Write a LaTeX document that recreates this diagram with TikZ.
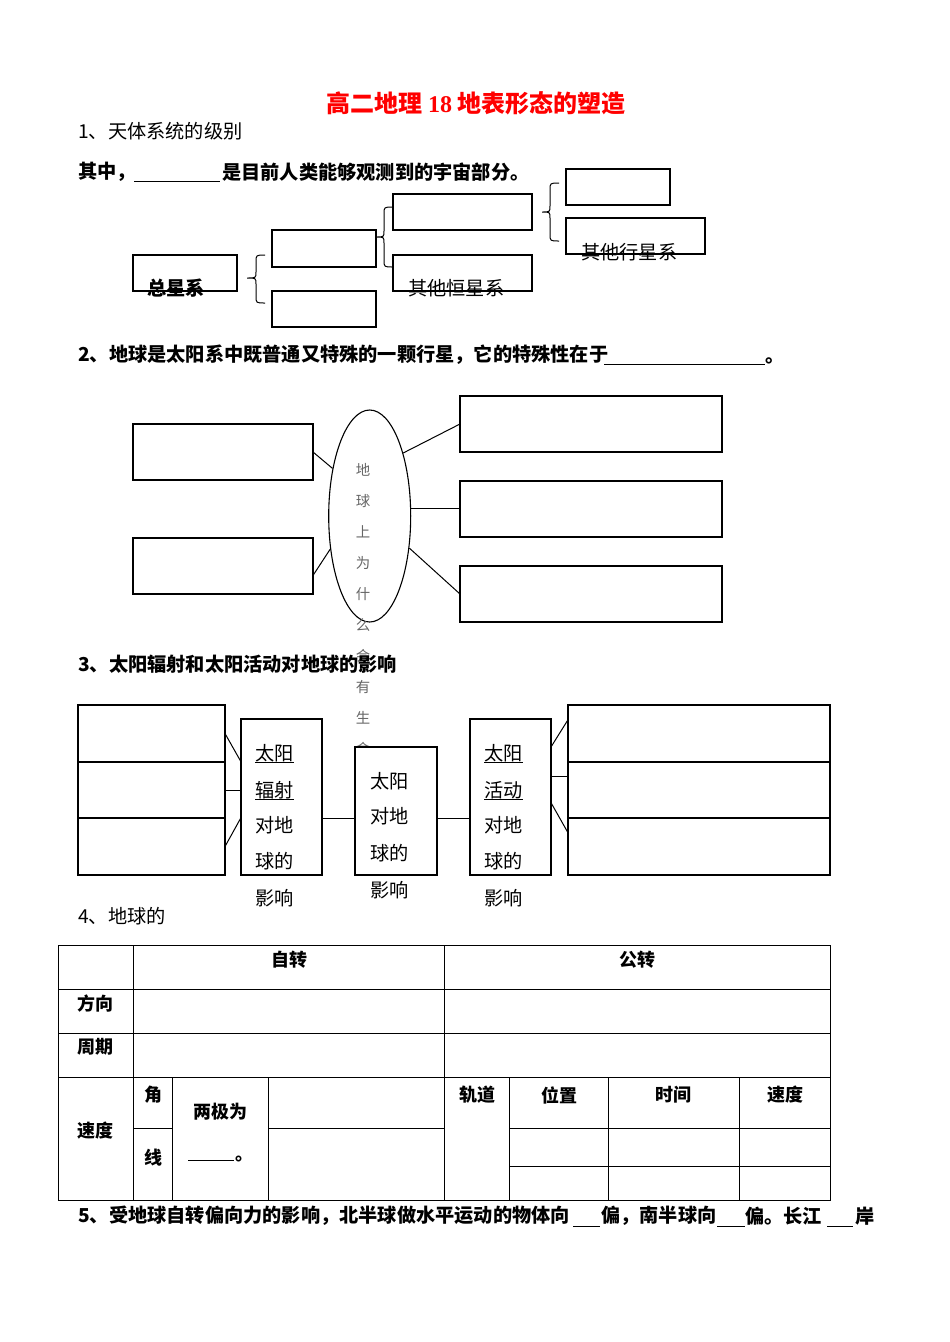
\documentclass[tikz,border=0pt]{standalone}
\usepackage{fontspec}
\setmainfont{Noto Sans CJK SC}
\newfontfamily\serifdigits{Liberation Serif}
\usetikzlibrary{shapes.geometric,calc}
\tikzset{
  bx/.style={draw, line width=1.1pt, inner sep=0pt, outer sep=0pt},
  tb/.style={font=\fontsize{19.2}{19.2}\selectfont\bfseries, anchor=west, inner sep=0pt},
  tr/.style={font=\fontsize{19.2}{19.2}\selectfont, anchor=west, inner sep=0pt},
  tbox/.style={font=\fontsize{19.2}{19.2}\selectfont, anchor=base west, inner sep=0pt},
  te/.style={font=\fontsize{14.4}{14.4}\selectfont, text=black!60, inner sep=0pt},
  tt/.style={font=\fontsize{18}{18}\selectfont\bfseries, inner sep=0pt},
  grid/.style={line width=0.9pt},
  link/.style={line width=1pt},
  ul/.style={line width=0.9pt},
  brace/.style={line width=1pt}
}
\newcommand\mybox[6][]{\node[bx,#1,minimum width={#5-#3},minimum height={#6-#4}] (#2) at ({(#3+#5)/2},{(#4+#6)/2}) {};}
% tip x, mid x, end x, top y, tip y, bottom y
\newcommand\mybrace[6]{\draw[brace] (#3,#4) .. controls (#2,#4) .. (#2,{#4+7}) -- (#2,{#5-6}) .. controls (#2,#5) .. (#1,#5) .. controls (#2,#5) .. (#2,{#5+6}) -- (#2,{#6-7}) .. controls (#2,#6) .. (#3,#6);}
\begin{document}
\begin{tikzpicture}[x=1pt,y=-1pt]
\useasboundingbox[fill=white] (0,0) rectangle (950,1342);

% title
\node[font=\fontsize{24}{24}\selectfont\bfseries, text=red, inner sep=0pt] (title) at (476,103) {高二地理 {\serifdigits 18} 地表形态的塑造};

% ---------- section 1
\node[tr] (s1) at (78,131) {1、天体系统的级别};
\node[tb] (q1a) at (78,172) {其中，};
\draw[ul] (134,181.5) -- (220,181.5);
\node[tb] (q1b) at (222,172) {是目前人类能够观测到的宇宙部分。};

\mybox{zx}{133}{255}{237}{291}
\mybox{b1}{272}{230}{376}{267}
\mybox{b2}{272}{291}{376}{327}
\mybox{c1}{393}{194}{532}{230}
\mybox{c2}{393}{255}{532}{291}
\mybox{d1}{566}{169}{670}{205}
\mybox{d2}{566}{218}{705}{254}
\node[tb] (zxt) at (147,288) {总星系};
\node[tr] (c2t) at (408,288) {其他恒星系};
\node[tr] (d2t) at (581,252) {其他行星系};

\mybrace{247}{256}{265}{255}{278}{303}
\mybrace{376}{384}{393}{207}{237}{267}
\mybrace{542}{550}{559}{183}{212}{241}

% ---------- section 2
\node[tb] (s2) at (78,355) {2、地球是太阳系中既普通又特殊的一颗行星，它的特殊性在于};
\draw[ul] (604,364) -- (765,364);
\node[tb, anchor=base west] (s2e) at (765,362.3) {。};

\mybox{L1}{133}{424}{313}{480}
\mybox{L2}{133}{538}{313}{594}
\mybox{R1}{460}{396}{722}{452}
\mybox{R2}{460}{481}{722}{537}
\mybox{R3}{460}{566}{722}{622}
\node[draw, ellipse, line width=1.1pt, minimum width=82, minimum height=212, inner sep=0pt] (ell) at (369.7,516) {};
\foreach \ch [count=\i from 0] in {地,球,上,为,什,么,会,有,生,命}
  \node[te] (ech\i) at (363,{470+31*\i}) {\ch};

\draw[link] (L1.east) -- (ell.128);
\draw[link] (L2.-6) -- (ell.220);
\draw[link] (ell.62) -- (R1.west);
\draw[link] (ell.10) -- (ell.10 -| R2.west);
\draw[link] (ell.-39) -- (R3.west);

% ---------- section 3
\node[tb] (s3) at (78,664) {3、太阳辐射和太阳活动对地球的影响};

\mybox{A1}{78}{705}{225}{762}
\mybox{A2}{78}{762}{225}{818}
\mybox{A3}{78}{818}{225}{875}
\mybox{B}{241}{719}{322}{875}
\mybox[fill=white]{C}{355}{747}{437}{875}
\mybox{D}{470}{719}{551}{875}
\mybox{E1}{568}{705}{830}{762}
\mybox{E2}{568}{762}{830}{818}
\mybox{E3}{568}{818}{830}{875}

\node[tbox] (bt1) at (255,760.3) {太阳};
\node[tbox] (bt2) at (255,797.3) {辐射};
\node[tbox] (bt3) at (255,832.3) {对地};
\node[tbox] (bt4) at (255,868.8) {球的};
\node[tbox] (bt5) at (255,905.3) {影响};
\draw[ul] ([yshift=-2pt]bt1.base west) -- ([yshift=-2pt]bt1.base east);
\draw[ul] ([yshift=-2pt]bt2.base west) -- ([yshift=-2pt]bt2.base east);

\node[tbox] (ct1) at (370,788.9) {太阳};
\node[tbox] (ct2) at (370,823.9) {对地};
\node[tbox] (ct3) at (370,860.3) {球的};
\node[tbox] (ct4) at (370,897.3) {影响};

\node[tbox] (dt1) at (484,760.3) {太阳};
\node[tbox] (dt2) at (484,797.3) {活动};
\node[tbox] (dt3) at (484,832.3) {对地};
\node[tbox] (dt4) at (484,868.8) {球的};
\node[tbox] (dt5) at (484,905.3) {影响};
\draw[ul] ([yshift=-2pt]dt1.base west) -- ([yshift=-2pt]dt1.base east);
\draw[ul] ([yshift=-2pt]dt2.base west) -- ([yshift=-2pt]dt2.base east);

\coordinate (ybc) at (0,818);
\coordinate (yde) at (0,776);
\draw[link] (A1.east) -- (B.139);
\draw[link] (A2.east) -- (A2.east -| B.west);
\draw[link] (A3.east) -- (B.207);
\draw[link] (B.east |- ybc) -- (C.west |- ybc);
\draw[link] (C.east |- ybc) -- (D.west |- ybc);
\draw[link] (D.51) -- (E1.174);
\draw[link] (D.east |- yde) -- (E2.west |- yde);
\draw[link] (D.-8) -- (E3.174);

% ---------- section 4
\node[tr] (s4) at (78,916) {4、地球的};

\draw[grid] (58,945) rectangle (830,1200);
\draw[grid] (58,989) -- (830,989);
\draw[grid] (58,1033) -- (830,1033);
\draw[grid] (58,1077) -- (830,1077);
\draw[grid] (133,1128) -- (172,1128);
\draw[grid] (268,1128) -- (444,1128);
\draw[grid] (509,1128) -- (830,1128);
\draw[grid] (509,1166) -- (830,1166);
\draw[grid] (133,945) -- (133,1200);
\draw[grid] (444,945) -- (444,1200);
\foreach \xx in {172,268,509,608,739}
  \draw[grid] (\xx,1077) -- (\xx,1200);

\node[tt] (h1) at (289,960) {自转};
\node[tt] (h2) at (637,960) {公转};
\node[tt, anchor=west] (r1) at (77,1004) {方向};
\node[tt, anchor=west] (r2) at (77,1047) {周期};
\node[tt, anchor=west] (r3) at (77,1131) {速度};
\node[tt] (j1) at (153,1095) {角};
\node[tt] (j2) at (153,1158) {线};
\node[tt] (lj) at (220,1112) {两极为};
\draw[ul] (188,1160) -- (234,1160);
\node[tt, anchor=base west] (lje) at (235,1160) {。};
\node[tt] (g1) at (477,1095) {轨道};
\node[tt] (g2) at (559,1095) {位置};
\node[tt] (g3) at (673,1095) {时间};
\node[tt] (g4) at (785,1095) {速度};

% ---------- section 5
\node[tb] (s5a) at (78,1216) {5、受地球自转偏向力的影响，北半球做水平运动的物体向};
\draw[ul] (573,1226) -- (600,1226);
\node[tb] (s5b) at (601,1216) {偏，南半球向};
\draw[ul] (717,1226) -- (745,1226);
\node[tb] (s5c) at (745,1216) {偏。长江};
\draw[ul] (827,1226) -- (853,1226);
\node[tb] (s5d) at (855,1216) {岸};
\end{tikzpicture}
\end{document}
